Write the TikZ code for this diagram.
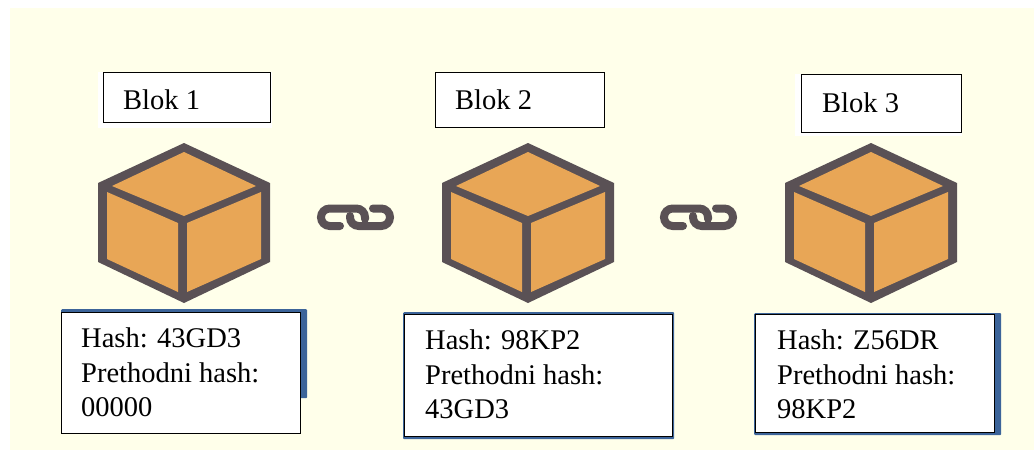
\documentclass[tikz,border=0pt]{standalone}
\usepackage{fontspec}
\setmainfont{Liberation Serif}
\definecolor{cream}{HTML}{FFFFEA}
\definecolor{cubeorange}{HTML}{E8A656}
\definecolor{cubedark}{HTML}{5A5155}
\definecolor{boxblue}{HTML}{3C6499}
\tikzset{
  x=1pt,y=-1pt,
  labelbox/.style={draw=black,fill=white,line width=1pt,inner sep=0pt,anchor=north west},
  halo/.style={fill=white,draw=none,inner sep=0pt,anchor=north west},
  backbox/.style={fill=boxblue,draw=none,rounded corners=1pt,inner sep=0pt,anchor=north west},
  bodytext/.style={inner sep=0pt,anchor=north west,align=left,font=\fontsize{28.5}{34.5}\selectfont},
  titletext/.style={inner sep=0pt,anchor=base west,font=\fontsize{28.5}{34.5}\selectfont},
  linkline/.style={draw=cubedark,line width=8pt,line cap=round,rounded corners=8.75pt},
}
\newcommand{\cubeat}[1]{%
  \begin{scope}[shift={(#1,0)}]
    \fill[cubedark] (184,143)--(270,183)--(270,262)--(184,303)--(98,262)--(98,183)--cycle;
    \fill[cubeorange] (184,152)--(256,186)--(184,216)--(112,186)--cycle;
    \fill[cubeorange] (107,192)--(178,223)--(178,292)--(107,259)--cycle;
    \fill[cubeorange] (187,223)--(261,192)--(261,259)--(187,292)--cycle;
  \end{scope}}
\newcommand{\linkat}[1]{%
  \begin{scope}[shift={(#1,0)}]
    \draw[linkline] (340,226)--(321,226)--(321,208.5)--(365,208.5)--(365,219);
    \draw[linkline] (373,208.5)--(390,208.5)--(390,226)--(350,226)--(350,216);
  \end{scope}}
\begin{document}
\begin{tikzpicture}
\useasboundingbox (0,0) rectangle (1034,450);
\fill[white] (0,0) rectangle (1034,450);
\fill[cream] (10,8) rectangle (1034,450);
% halos behind the title boxes
\node[halo,minimum width=174pt,minimum height=56pt] (h1) at (98,72) {};
\node[halo,minimum width=167pt,minimum height=62pt] (h3) at (795,74) {};
% title boxes
\node[labelbox,minimum width=167pt,minimum height=50pt] (b1) at (103,72) {};
\node[labelbox,minimum width=169pt,minimum height=55pt] (b2) at (435,72) {};
\node[labelbox,minimum width=160pt,minimum height=58pt] (b3) at (801,74) {};
\node[titletext] (t1) at (123,109) {Blok 1};
\node[titletext] (t2) at (455,109) {Blok 2};
\node[titletext] (t3) at (822,112) {Blok 3};
% cubes
\cubeat{0}
\cubeat{344}
\cubeat{687}
% chain links
\linkat{0}
\linkat{343}
% hash boxes
\node[backbox,minimum width=246pt,minimum height=89pt] (k1) at (61,309) {};
\node[labelbox,minimum width=239pt,minimum height=121pt] (a1) at (61,312) {};
\node[backbox,minimum width=271pt,minimum height=127pt] (k2) at (403,312) {};
\node[labelbox,minimum width=268pt,minimum height=122pt] (a2) at (404,314) {};
\node[backbox,minimum width=247pt,minimum height=122pt] (k3) at (754,313) {};
\node[labelbox,minimum width=239pt,minimum height=118pt] (a3) at (755,314) {};
\node[bodytext] (x1) at (81,328) {Hash: 43GD3\\Prethodni hash:\\00000};
\node[bodytext] (x2) at (425,330) {Hash: 98KP2\\Prethodni hash:\\43GD3};
\node[bodytext] (x3) at (777,330) {Hash: Z56DR\\Prethodni hash:\\98KP2};
\end{tikzpicture}
\end{document}
